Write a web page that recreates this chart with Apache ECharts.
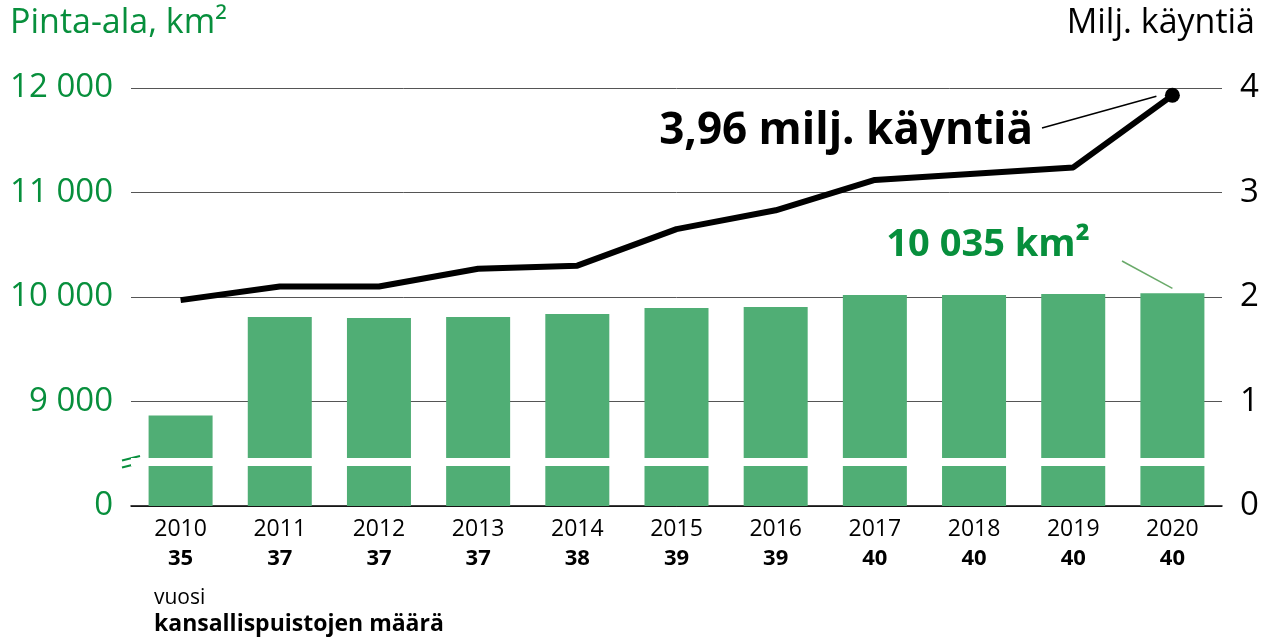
<!DOCTYPE html>
<html>
<head>
<meta charset="utf-8">
<script src="https://cdn.jsdelivr.net/npm/echarts@6/dist/echarts.min.js"></script>
<style>
  html, body { margin: 0; background: #fff; }
  #main { width: 1266px; height: 642px; }
</style>
</head>
<body>
<div id="main"></div>
<script>
// vuosi / kansallispuistojen määrä
var years = ['2010', '2011', '2012', '2013', '2014', '2015', '2016', '2017', '2018', '2019', '2020'];
var parkCounts = [35, 37, 37, 37, 38, 39, 39, 40, 40, 40, 40];
// pinta-ala km² (pylväät)
var areaKm2 = [8866, 9809, 9799, 9809, 9837, 9895, 9904, 10019, 10019, 10029, 10035];
// käynnit, milj. (viiva)
var visitsMillion = [1.97, 2.10, 2.10, 2.27, 2.30, 2.65, 2.83, 3.12, 3.18, 3.24, 3.93];
// katkaistu akseli: 8000 näytetään nollana
var areaTicks = [8000, 9000, 10000, 11000, 12000];
var areaTickLabels = ['0', '9 000', '10 000', '11 000', '12 000'];
var visitTicks = [0, 1, 2, 3, 4];
var axisBreakAt = 8425;

var green = '#078f3c';
var barGreen = '#50ae75';
var font = 'Open Sans';

var chart = echarts.init(document.getElementById('main'));

var lineData = visitsMillion.map(function (v, i) {
  if (i === visitsMillion.length - 1) {
    return { value: v, symbol: 'circle', symbolSize: 15 };
  }
  return v;
});

chart.setOption({
  animation: false,
  textStyle: { fontFamily: font },
  grid: { left: 131, right: 44, top: 88, bottom: 136 },
  xAxis: {
    type: 'category',
    data: years,
    axisTick: { show: false },
    axisLine: { lineStyle: { color: '#000', width: 1.5 } },
    axisLabel: {
      margin: 9,
      formatter: function (v, i) {
        return '{y|' + v + '}\n{c|' + parkCounts[i] + '}';
      },
      rich: {
        y: { fontSize: 23, color: '#000', fontFamily: font, lineHeight: 29 },
        c: { fontSize: 22, color: '#000', fontWeight: 'bold', fontFamily: font, lineHeight: 29 }
      }
    }
  },
  yAxis: [{
    type: 'value',
    min: areaTicks[0],
    max: areaTicks[areaTicks.length - 1],
    interval: 1000,
    axisLine: { show: false },
    axisTick: { show: false },
    axisLabel: {
      margin: 18,
      fontSize: 33,
      color: green,
      formatter: function (v) { return areaTickLabels[areaTicks.indexOf(v)]; }
    },
    splitLine: { lineStyle: { color: '#555', width: 1 } }
  }, {
    type: 'value',
    min: visitTicks[0],
    max: visitTicks[visitTicks.length - 1],
    interval: 1,
    axisLine: { show: false },
    axisTick: { show: false },
    splitLine: { show: false },
    axisLabel: { margin: 18, fontSize: 33, color: '#000' }
  }],
  series: [{
    name: 'Pinta-ala',
    type: 'bar',
    data: areaKm2,
    barWidth: 64,
    itemStyle: { color: barGreen },
    markLine: {
      silent: true,
      symbol: 'none',
      label: { show: false },
      lineStyle: { color: '#fff', width: 8, type: 'solid' },
      data: [{ yAxis: axisBreakAt }]
    }
  }, {
    name: 'Käynnit',
    type: 'line',
    yAxisIndex: 1,
    data: lineData,
    symbol: 'none',
    z: 5,
    itemStyle: { color: '#000' },
    lineStyle: { color: '#000', width: 6 }
  }]
});

var last = years.length - 1;
var pVisit = chart.convertToPixel({ xAxisIndex: 0, yAxisIndex: 1 }, [years[last], visitsMillion[last]]);
var pArea = chart.convertToPixel({ xAxisIndex: 0, yAxisIndex: 0 }, [years[last], areaKm2[last]]);
var pBreak = chart.convertToPixel({ xAxisIndex: 0, yAxisIndex: 0 }, [years[0], axisBreakAt]);
var gl = 131, by = pBreak[1];

chart.setOption({
  graphic: [
    { type: 'text', left: 10, top: 6, style: { text: 'Pinta-ala, km²', fontSize: 34, fill: green, fontFamily: font } },
    { type: 'text', right: 11, top: 6, style: { text: 'Milj. käyntiä', fontSize: 34, fill: '#000', fontFamily: font } },
    { type: 'text', left: 154, top: 588, style: { text: 'vuosi', fontSize: 21, fill: '#000', fontFamily: font } },
    { type: 'text', left: 154, top: 613, style: { text: 'kansallispuistojen määrä', fontSize: 23, fontWeight: 'bold', fill: '#000', fontFamily: font } },
    { type: 'text', x: 1033, y: 131, style: { text: '3,96 milj. käyntiä', fontSize: 44, fontWeight: 'bold', fill: '#000', fontFamily: font, align: 'right', verticalAlign: 'middle' } },
    { type: 'line', shape: { x1: 1042, y1: 128, x2: pVisit[0] - 16, y2: pVisit[1] + 1 }, style: { stroke: '#000', lineWidth: 1.5 } },
    { type: 'text', x: 1090, y: 245, style: { text: '10 035 km²', fontSize: 38, fontWeight: 'bold', fill: green, fontFamily: font, align: 'right', verticalAlign: 'middle' } },
    { type: 'line', shape: { x1: 1122, y1: 261, x2: pArea[0], y2: pArea[1] - 5 }, style: { stroke: '#6aaa6a', lineWidth: 1.5 } },
    { type: 'line', shape: { x1: gl - 9, y1: by - 1, x2: gl + 9, y2: by - 5.5 }, style: { stroke: green, lineWidth: 2 } },
    { type: 'line', shape: { x1: gl - 9, y1: by + 6, x2: gl + 9, y2: by + 1.5 }, style: { stroke: green, lineWidth: 2 } }
  ]
});
</script>
</body>
</html>
